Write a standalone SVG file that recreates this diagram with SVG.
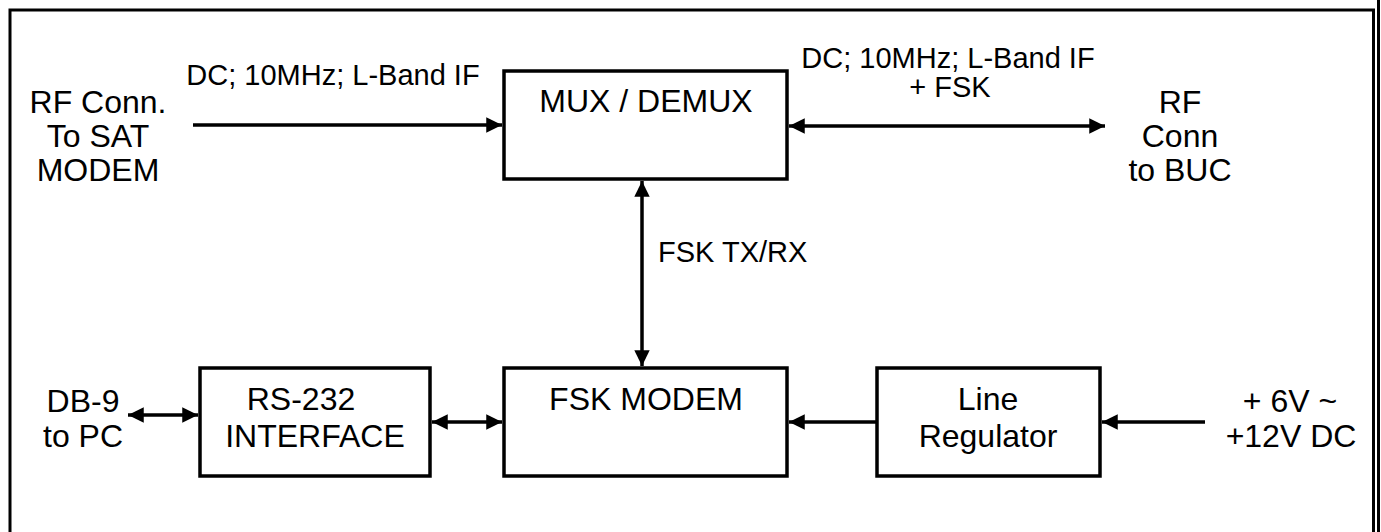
<svg xmlns="http://www.w3.org/2000/svg" width="1381" height="532" viewBox="0 0 1381 532">
<style>
text{font-family:"Liberation Sans",Arial,sans-serif;fill:#000;text-anchor:middle}
.big{font-size:32px}
.lab{font-size:29px}
.box{fill:#fff;stroke:#000;stroke-width:3.5}
.con{stroke:#000;stroke-width:3.5;fill:none}
.frame{stroke:#000;stroke-width:3;fill:none}
</style>
<defs>
<marker id="ah" markerWidth="5" markerHeight="5" refX="4.5" refY="2.5" orient="auto-start-reverse" markerUnits="strokeWidth">
<path d="M0,0.3 L4.5,2.5 L0,4.7 Z" fill="#000"/>
</marker>
</defs>
<g id="frame">
<path class="frame" d="M10,532 V10 H1373.5 V532"/>
<line class="frame" x1="1378.5" y1="0" x2="1378.5" y2="532"/>
</g>
<g id="connectors">
<line class="con" x1="193" y1="125" x2="502" y2="125" marker-end="url(#ah)"/>
<line class="con" x1="789" y1="126" x2="1105" y2="126" marker-start="url(#ah)" marker-end="url(#ah)"/>
<line class="con" x1="642" y1="181" x2="642" y2="366" marker-start="url(#ah)" marker-end="url(#ah)"/>
<line class="con" x1="128" y1="415" x2="198" y2="415" marker-start="url(#ah)" marker-end="url(#ah)"/>
<line class="con" x1="432" y1="422" x2="502" y2="422" marker-start="url(#ah)" marker-end="url(#ah)"/>
<line class="con" x1="877" y1="422" x2="789" y2="422" marker-end="url(#ah)"/>
<line class="con" x1="1205" y1="422" x2="1102" y2="422" marker-end="url(#ah)"/>
<text class="lab" x="333" y="85">DC; 10MHz; L-Band IF</text>
<text class="lab" x="948" y="68">DC; 10MHz; L-Band IF</text>
<text class="lab" x="950" y="97">+ FSK</text>
<text class="lab" x="658" y="262" style="text-anchor:start">FSK TX/RX</text>
</g>
<g id="rf-sat">
<text class="big" x="98" y="113">RF Conn.</text>
<text class="big" x="98" y="147">To SAT</text>
<text class="big" x="98" y="181">MODEM</text>
</g>
<g id="rf-buc">
<text class="big" x="1180" y="113">RF</text>
<text class="big" x="1180" y="147">Conn</text>
<text class="big" x="1180" y="181">to BUC</text>
</g>
<g id="mux">
<rect class="box" x="504" y="71" width="283" height="108"/>
<text class="big" x="646" y="112">MUX / DEMUX</text>
</g>
<g id="fsk-modem">
<rect class="box" x="504" y="368" width="283" height="108"/>
<text class="big" x="646" y="410">FSK MODEM</text>
</g>
<g id="rs232">
<rect class="box" x="200" y="368" width="230" height="108"/>
<text class="big" x="301" y="410">RS-232</text>
<text class="big" x="315" y="447">INTERFACE</text>
</g>
<g id="regulator">
<rect class="box" x="877" y="368" width="223" height="108"/>
<text class="big" x="988" y="410">Line</text>
<text class="big" x="988" y="447">Regulator</text>
</g>
<g id="db9">
<text class="big" x="83" y="412">DB-9</text>
<text class="big" x="83" y="447">to PC</text>
</g>
<g id="power">
<text class="big" x="1290" y="412">+ 6V ~</text>
<text class="big" x="1291" y="447">+12V DC</text>
</g>
</svg>
